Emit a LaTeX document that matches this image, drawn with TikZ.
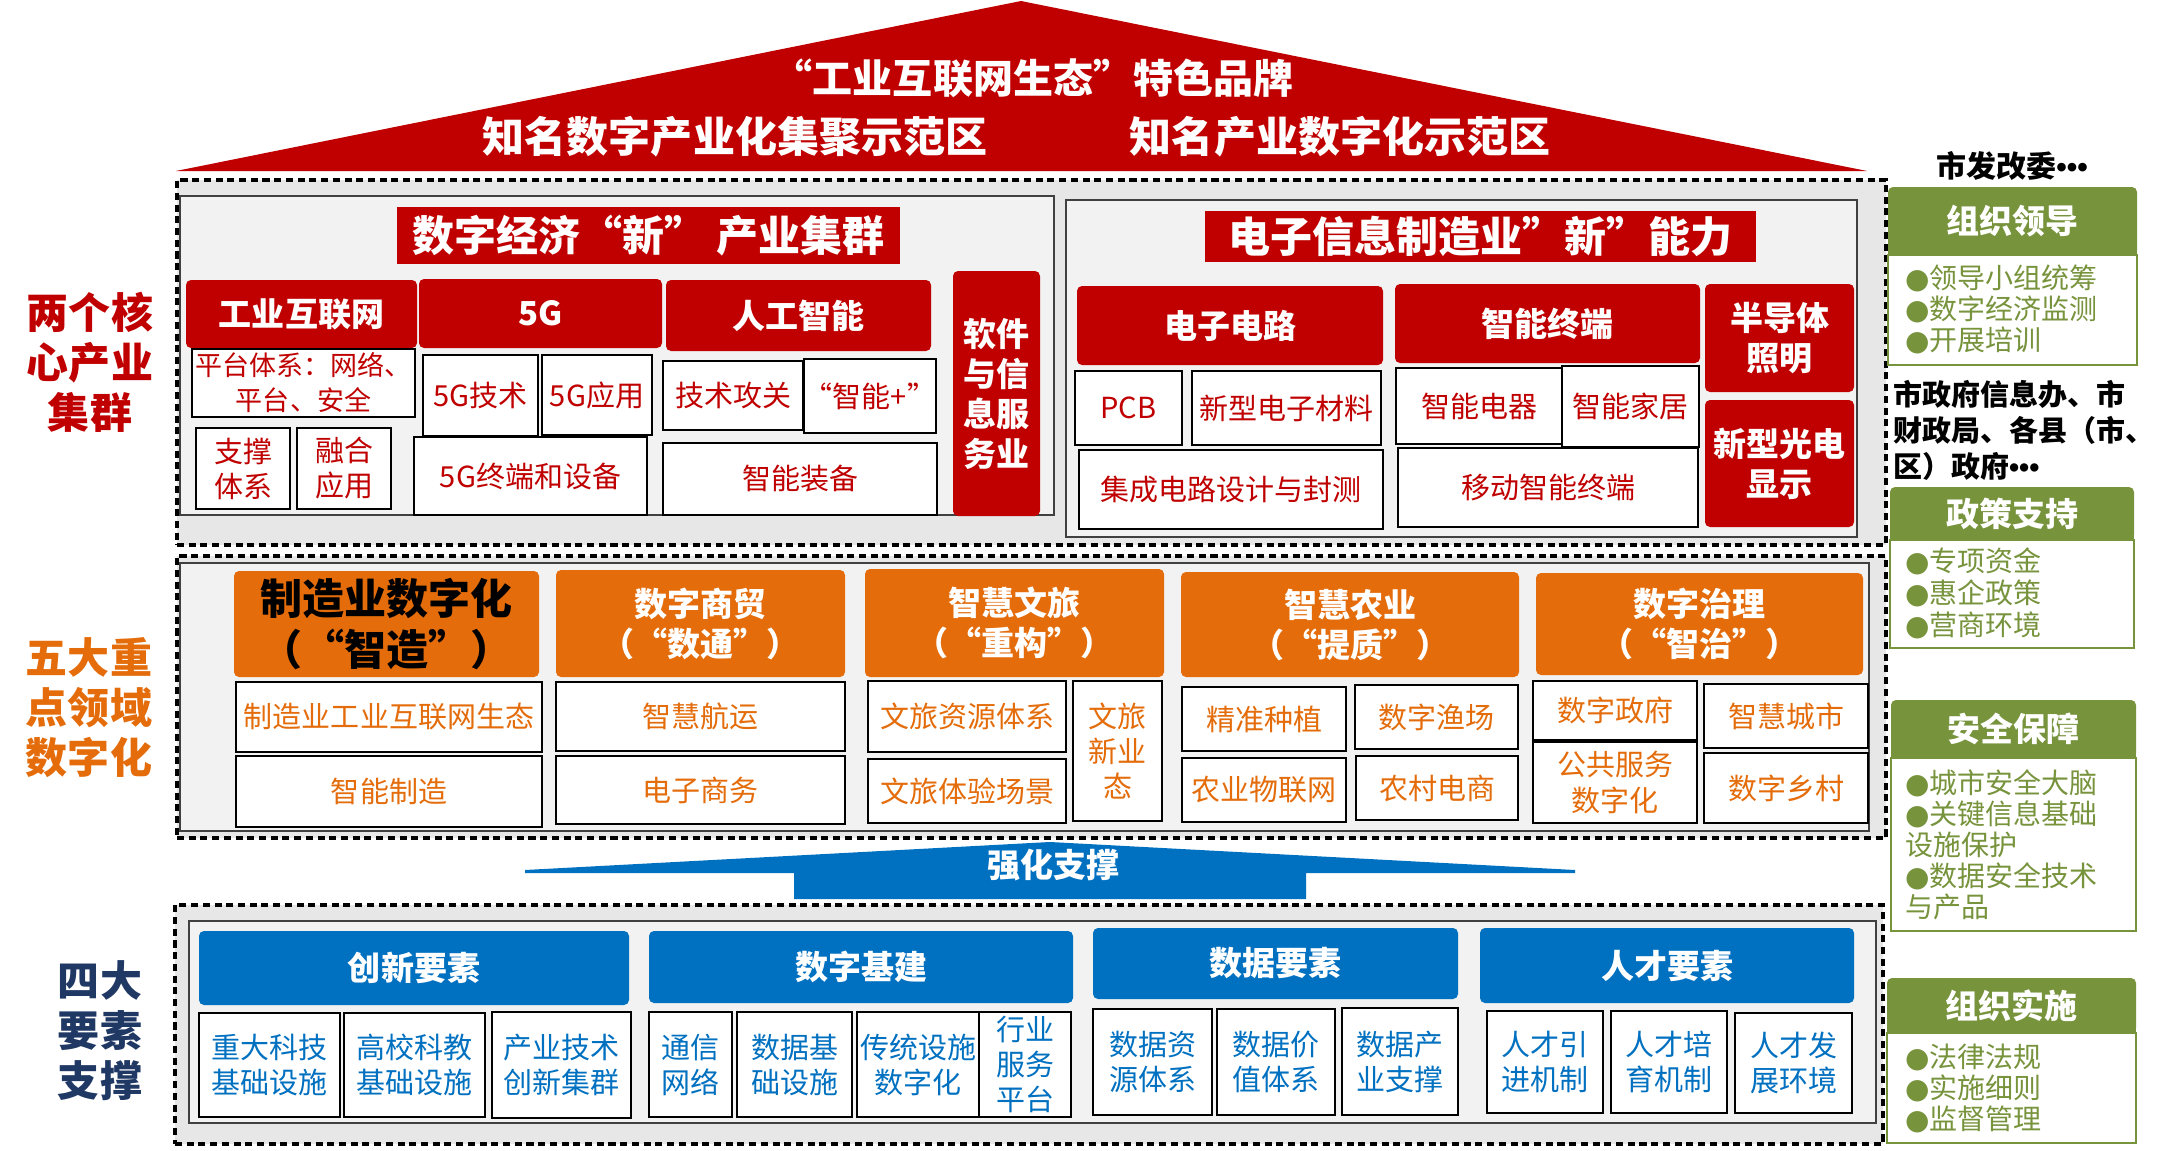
\documentclass[tikz,border=0pt]{standalone}
\usepackage{fontspec}
\setmainfont{Noto Sans CJK SC}
\newfontfamily\latinfont{Liberation Sans}
\newfontfamily\dvfont{DejaVu Sans}
\definecolor{cRed}{HTML}{C00000}
\definecolor{cOrange}{HTML}{E46C0A}
\definecolor{cBlue}{HTML}{0070C0}
\definecolor{cGreen}{HTML}{77933C}
\definecolor{cNavy}{HTML}{203864}
\definecolor{cDashFill}{HTML}{E7E7E7}
\definecolor{cPanelFill}{HTML}{F2F2F2}
\definecolor{cPanelLine}{HTML}{404040}
\newcommand{\pxfont}[2]{\pgfmathsetmacro{\myfsA}{#1*0.8536}\pgfmathsetmacro{\myfsB}{#2*0.8536}\fontsize{\myfsA pt}{\myfsB pt}\selectfont}
\newcommand{\bx}[7]{%
  \pgfmathsetmacro{\myW}{(#4-#2)*0.03}%
  \pgfmathsetmacro{\myH}{(#5-#3)*0.03}%
  \node[#6, minimum width=\myW cm, minimum height=\myH cm] (#1) at ({(#2+#4)/2},{(#3+#5)/2}) {#7};}
\newcommand{\dotsx}{{\latinfont\bfseries •••}}
\newcommand{\bul}{{\dvfont ●}}
\tikzset{
  every node/.style={inner sep=0pt, outer sep=0pt, align=center},
  dashbox/.style={draw=black, line width=2.6pt, dash pattern=on 6pt off 4pt, fill=cDashFill},
  panel/.style={draw=cPanelLine, line width=1.6pt, fill=cPanelFill},
  redtitle/.style={fill=cRed, text=white, font=\pxfont{42}{50}\bfseries},
  redhead/.style={fill=cRed, rounded corners=0.15cm, text=white, font=\pxfont{33}{40}\bfseries},
  wbox/.style={draw=black, line width=2.2pt, fill=white, font=\pxfont{29}{35}},
  redbox/.style={wbox, text=cRed},
  orhead/.style={fill=cOrange, rounded corners=0.15cm, text=white, font=\pxfont{33}{40}\bfseries},
  orbox/.style={wbox, text=cOrange},
  bluehead/.style={fill=cBlue, rounded corners=0.15cm, text=white, font=\pxfont{33}{40}\bfseries},
  bluebox/.style={wbox, text=cBlue},
  greenhead/.style={fill=cGreen, rounded corners=0.15cm, text=white, font=\pxfont{33}{40}\bfseries},
  greenbox/.style={draw=cGreen, line width=2.2pt, fill=white},
  greentxt/.style={text=cGreen, anchor=west, align=left},
  sidelabel/.style={font=\pxfont{42}{50}\bfseries},
}
\begin{document}
\begin{tikzpicture}[x=0.03cm,y=-0.03cm]
\useasboundingbox (0,0) rectangle (2172,1151);
% roof
\fill[cRed] (176,171) -- (1021,1) -- (1867,171) -- cycle;
\node[text=white, font=\pxfont{40}{48}\bfseries] (rooft1) at (1033,78) {“工业互联网生态”特色品牌};
\node[text=white, font=\pxfont{42}{48}\bfseries] (rooft2) at (735,137) {知名数字产业化集聚示范区};
\node[text=white, font=\pxfont{42}{48}\bfseries] (rooft3) at (1340,137) {知名产业数字化示范区};

% left labels
\node[sidelabel, text=cRed] (lab1) at (90,362) {两个核\\心产业\\集群};
\node[sidelabel, text=cOrange] (lab2) at (89,708) {五大重\\点领域\\数字化};
\node[sidelabel, text=cNavy] (lab3) at (100,1031) {四大\\要素\\支撑};

% ===== top section =====
\bx{topdash}{177}{180}{1886}{545}{dashbox}{}
\bx{lpanel}{180}{196}{1054}{515}{panel}{}
\bx{rpanel}{1066}{200}{1857}{537}{panel}{}
\bx{ltitle}{397}{207}{900}{264}{redtitle}{数字经济“新” 产业集群}
\bx{h1}{186}{280}{417}{348}{redhead}{工业互联网}
\bx{h2}{419}{279}{662}{348}{redhead}{5G}
\bx{h3}{666}{280}{931}{351}{redhead}{人工智能}
\bx{h4}{953}{271}{1040}{516}{redhead}{软件\\与信\\息服\\务业}
\bx{w1}{192}{349}{415}{417}{redbox,font=\pxfont{27}{35}}{平台体系：网络、\\平台、安全}
\bx{w2}{196}{428}{290}{509}{redbox}{支撑\\体系}
\bx{w3}{297}{428}{391}{509}{redbox}{融合\\应用}
\bx{w4}{423}{355}{538}{436}{redbox}{5G技术}
\bx{w5}{542}{355}{652}{435}{redbox}{5G应用}
\bx{w6}{414}{437}{647}{515}{redbox}{5G终端和设备}
\bx{w7}{663}{361}{803}{430}{redbox}{技术攻关}
\bx{w8}{807}{359}{933}{433}{redbox}{“智能+”}
\bx{w9}{663}{443}{937}{515}{redbox}{智能装备}

\bx{rtitle}{1205}{211}{1756}{262}{redtitle}{电子信息制造业”新”能力}
\bx{e1}{1077}{286}{1383}{365}{redhead}{电子电路}
\bx{e2}{1395}{284}{1700}{363}{redhead}{智能终端}
\bx{e3}{1705}{284}{1854}{392}{redhead}{半导体\\照明}
\bx{e4}{1705}{400}{1854}{527}{redhead}{新型光电\\显示}
\bx{f1}{1075}{371}{1182}{445}{redbox}{PCB}
\bx{f2}{1192}{371}{1381}{445}{redbox}{新型电子材料}
\bx{f3}{1079}{450}{1383}{529}{redbox}{集成电路设计与封测}
\bx{f4}{1396}{368}{1562}{444}{redbox}{智能电器}
\bx{f5}{1562}{366}{1699}{447}{redbox}{智能家居}
\bx{f6}{1398}{448}{1698}{527}{redbox}{移动智能终端}

% ===== middle section =====
\bx{middash}{177}{556}{1886}{838}{dashbox}{}
\bx{mpanel}{180}{563}{1869}{831}{panel}{}
\bx{o1}{234}{571}{539}{677}{orhead,text=black,font=\pxfont{42}{51}\bfseries}{制造业数字化\\（“智造”）}
\bx{o2}{556}{570}{845}{677}{orhead}{数字商贸\\（“数通”）}
\bx{o3}{865}{569}{1164}{677}{orhead}{智慧文旅\\（“重构”）}
\bx{o4}{1181}{572}{1519}{677}{orhead}{智慧农业\\（“提质”）}
\bx{o5}{1536}{573}{1863}{675}{orhead}{数字治理\\（“智治”）}
\bx{p1}{236}{682}{542}{752}{orbox}{制造业工业互联网生态}
\bx{p2}{236}{756}{542}{827}{orbox}{智能制造}
\bx{p3}{556}{682}{845}{751}{orbox}{智慧航运}
\bx{p4}{556}{756}{845}{824}{orbox}{电子商务}
\bx{p5}{868}{681}{1066}{752}{orbox}{文旅资源体系}
\bx{p6}{868}{759}{1066}{823}{orbox}{文旅体验场景}
\bx{p7}{1073}{681}{1162}{821}{orbox}{文旅\\新业\\态}
\bx{p8}{1182}{687}{1346}{751}{orbox}{精准种植}
\bx{p9}{1355}{685}{1518}{749}{orbox}{数字渔场}
\bx{p10}{1182}{758}{1346}{822}{orbox}{农业物联网}
\bx{p11}{1356}{756}{1518}{820}{orbox}{农村电商}
\bx{p12}{1533}{681}{1697}{740}{orbox}{数字政府}
\bx{p13}{1533}{742}{1697}{823}{orbox}{公共服务\\数字化}
\bx{p14}{1704}{684}{1868}{748}{orbox}{智慧城市}
\bx{p15}{1704}{753}{1868}{823}{orbox}{数字乡村}

% ===== arrow =====
\fill[cBlue] (525,870) -- (1050,842) -- (1575,870) -- (1575,873) -- (1306,873) -- (1306,899) -- (794,899) -- (794,873) -- (525,873) -- cycle;
\node[text=white, font=\pxfont{33}{40}\bfseries] (arrowt) at (1053,865) {强化支撑};

% ===== bottom section =====
\bx{botdash}{175}{905}{1883}{1144}{dashbox}{}
\bx{bpanel}{189}{921}{1876}{1123}{panel}{}
\bx{b1}{199}{931}{629}{1005}{bluehead}{创新要素}
\bx{b2}{649}{931}{1073}{1003}{bluehead}{数字基建}
\bx{b3}{1093}{928}{1458}{999}{bluehead}{数据要素}
\bx{b4}{1480}{928}{1854}{1003}{bluehead}{人才要素}
\bx{c1}{199}{1013}{340}{1117}{bluebox}{重大科技\\基础设施}
\bx{c2}{344}{1013}{485}{1117}{bluebox}{高校科教\\基础设施}
\bx{c3}{492}{1012}{631}{1118}{bluebox}{产业技术\\创新集群}
\bx{c4}{649}{1012}{732}{1117}{bluebox}{通信\\网络}
\bx{c5}{737}{1012}{852}{1117}{bluebox}{数据基\\础设施}
\bx{c6}{857}{1012}{979}{1117}{bluebox}{传统设施\\数字化}
\bx{c7}{979}{1012}{1071}{1117}{bluebox}{行业\\服务\\平台}
\bx{c8}{1093}{1009}{1212}{1115}{bluebox}{数据资\\源体系}
\bx{c9}{1217}{1009}{1335}{1115}{bluebox}{数据价\\值体系}
\bx{c10}{1342}{1008}{1458}{1115}{bluebox}{数据产\\业支撑}
\bx{c11}{1487}{1011}{1603}{1113}{bluebox}{人才引\\进机制}
\bx{c12}{1611}{1011}{1727}{1113}{bluebox}{人才培\\育机制}
\bx{c13}{1735}{1013}{1852}{1113}{bluebox}{人才发\\展环境}

% ===== right column =====
\node[font=\pxfont{30}{36}\bfseries] (fgw) at (2012,166) {市发改委\dotsx};
\fill[cGreen] (1888,235) rectangle (2137,255);
\bx{g1}{1888}{187}{2137}{255}{greenhead}{组织领导}
\bx{g1c}{1888}{255}{2137}{365}{greenbox}{}
\node[greentxt, font=\pxfont{28}{31}] (g1t) at (1905,309) {\bul 领导小组统筹\\\bul 数字经济监测\\\bul 开展培训};
\node[anchor=west, align=left, font=\pxfont{29}{36}\bfseries] (gov) at (1893,430) {市政府信息办、市\\财政局、各县（市、\\区）政府\dotsx};
\fill[cGreen] (1890,520) rectangle (2134,540);
\bx{g2}{1890}{487}{2134}{540}{greenhead}{政策支持}
\bx{g2c}{1890}{540}{2134}{648}{greenbox}{}
\node[greentxt, font=\pxfont{28}{32}] (g2t) at (1905,593) {\bul 专项资金\\\bul 惠企政策\\\bul 营商环境};
\fill[cGreen] (1891,738) rectangle (2136,758);
\bx{g3}{1891}{700}{2136}{758}{greenhead}{安全保障}
\bx{g3c}{1891}{758}{2136}{931}{greenbox}{}
\node[greentxt, font=\pxfont{28}{31}] (g3t) at (1905,845) {\bul 城市安全大脑\\\bul 关键信息基础\\设施保护\\\bul 数据安全技术\\与产品};
\fill[cGreen] (1887,1013) rectangle (2136,1033);
\bx{g4}{1887}{978}{2136}{1033}{greenhead}{组织实施}
\bx{g4c}{1887}{1033}{2136}{1143}{greenbox}{}
\node[greentxt, font=\pxfont{28}{31}] (g4t) at (1905,1088) {\bul 法律法规\\\bul 实施细则\\\bul 监督管理};
\end{tikzpicture}
\end{document}
